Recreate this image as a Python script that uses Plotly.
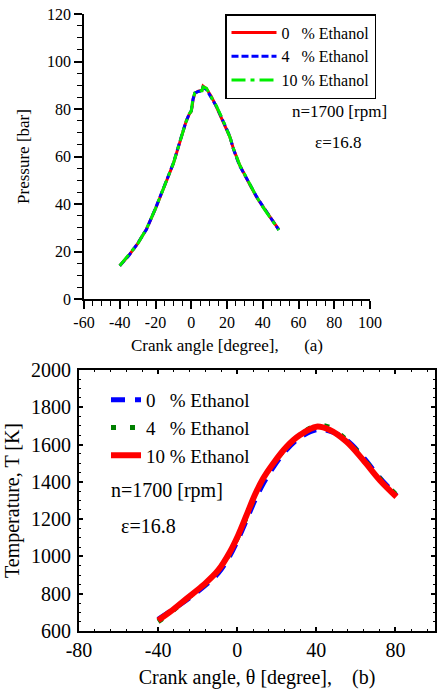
import plotly.graph_objects as go

# ---------------- data: (a) pressure ----------------
theta_p = [-40, -35, -30, -25, -20, -15, -10, -6, -3, -1, 0, 0.5, 1, 2, 4, 6, 6.6, 8.5, 10, 11.3, 14, 17, 21.6, 23.5, 27, 32, 36.5, 40, 44, 47, 49]
p_0 = [14, 18.3, 23.3, 29.5, 38, 47.5, 57, 67, 74.5, 78, 79, 81, 84, 86.6, 87.5, 87.8, 89.6, 88.5, 86.6, 85.2, 81, 76, 68.3, 63.5, 56.5, 49.2, 43, 39, 34.5, 31, 29.2]
p_4 = [14, 18.2, 23.4, 29.4, 38.2, 47.4, 57.2, 67.2, 74.6, 78.2, 79.2, 81.5, 84.2, 86.7, 87.4, 87.6, 89.2, 88.2, 86.4, 85.0, 81.2, 76.3, 68.5, 63.3, 56.2, 49.4, 43.2, 39.1, 34.4, 31.1, 29.1]
p_10 = [14, 18.4, 23.2, 29.6, 38.1, 47.6, 57.1, 67.1, 74.4, 78.1, 79.1, 82, 84.5, 86.8, 87.6, 87.7, 89.3, 88.8, 86.5, 84.8, 81.4, 76.5, 68.2, 63.6, 56.6, 49.3, 43.1, 38.8, 34.6, 31.0, 29.0]
ticks_xa = [-60, -40, -20, 0, 20, 40, 60, 80, 100]
ticks_xa_text = ["-60", "-40", "-20", "0", "20", "40", "60", "80", "100"]

# ---------------- data: (b) temperature ----------------
theta_t = [-40, -34, -25.6, -16.3, -9.6, -3.7, 0.5, 4.7, 8.9, 13.1, 18.2, 24.9, 31.7, 40.1, 46.8, 55.3, 63.7, 72.1, 80.5]
t_0 = [662, 705, 766, 843, 910, 1004, 1094, 1196, 1300, 1390, 1478, 1572, 1638, 1680, 1672, 1624, 1532, 1422, 1326]
t_4 = [650, 696, 772, 850, 924, 1018, 1108, 1212, 1322, 1414, 1497, 1586, 1652, 1702, 1692, 1624, 1526, 1418, 1330]
t_10 = [657, 702, 774, 854, 926, 1024, 1114, 1221, 1329, 1418, 1499, 1588, 1651, 1696, 1678, 1615, 1517, 1409, 1320]
ticks_xb = [-80, -40, 0, 40, 80]
ticks_xb_text = ["-80", "-40", "0", "40", "80"]

labels = ["0\u00a0\u00a0\u00a0% Ethanol", "4\u00a0\u00a0\u00a0% Ethanol", "10 % Ethanol"]

FONT = "Times New Roman, Liberation Serif, serif"
W, H = 438, 693

fig = go.Figure()

# top chart traces
fig.add_trace(go.Scatter(x=theta_p, y=p_0, mode="lines", name=labels[0],
                         line=dict(color="#ff0000", width=3), xaxis="x", yaxis="y", legend="legend"))
fig.add_trace(go.Scatter(x=theta_p, y=p_4, mode="lines", name=labels[1],
                         line=dict(color="#0000ff", width=3, dash="7px,3px"), xaxis="x", yaxis="y", legend="legend"))
fig.add_trace(go.Scatter(x=theta_p, y=p_10, mode="lines", name=labels[2],
                         line=dict(color="#00ee00", width=3, dash="14px,5px,4px,5px"), xaxis="x", yaxis="y", legend="legend"))

# bottom chart traces
fig.add_trace(go.Scatter(x=theta_t, y=t_0, mode="lines", name=labels[0], line_shape="spline",
                         line=dict(color="#0000ff", width=5, dash="14px,10px"), xaxis="x2", yaxis="y2", legend="legend2"))
fig.add_trace(go.Scatter(x=theta_t, y=t_4, mode="lines", name=labels[1], line_shape="spline",
                         line=dict(color="#008000", width=5, dash="5px,14px"), xaxis="x2", yaxis="y2", legend="legend2"))
fig.add_trace(go.Scatter(x=theta_t, y=t_10, mode="lines", name=labels[2], line_shape="spline",
                         line=dict(color="#ff0000", width=6), xaxis="x2", yaxis="y2", legend="legend2"))

def px_x(v):
    return v / W

def px_y(v):
    return 1 - v / H

tickfont_a = dict(family=FONT, size=16, color="black")
tickfont_b = dict(family=FONT, size=20, color="black")

fig.update_layout(
    template="none",
    width=W, height=H,
    margin=dict(l=0, r=0, t=0, b=0, autoexpand=False),
    paper_bgcolor="white", plot_bgcolor="white",
    font=dict(family=FONT, color="black"),
    xaxis=dict(
        domain=[px_x(84), px_x(370)], anchor="y", automargin=False,
        range=[-60, 100], tickmode="array", tickvals=ticks_xa, ticktext=ticks_xa_text,
        showline=True, linecolor="black", linewidth=1.5,
        ticks="outside", ticklen=8, tickwidth=1.5, tickcolor="black",
        minor=dict(dtick=5, tick0=0, ticks="outside", ticklen=5, tickwidth=1, tickcolor="black", showgrid=False),
        showgrid=False, zeroline=False, tickfont=tickfont_a,
        title=dict(text="Crank angle [degree],\u00a0\u00a0\u00a0\u00a0\u00a0\u00a0(a)\u00a0\u00a0\u00a0",
                   font=dict(family=FONT, size=17, color="black"), standoff=9),
    ),
    yaxis=dict(
        domain=[px_y(299), px_y(14)], anchor="x", automargin=False,
        range=[0, 120], tick0=0, dtick=20,
        showline=True, linecolor="black", linewidth=1.5,
        ticks="outside", ticklen=8, tickwidth=1.5, tickcolor="black",
        minor=dict(dtick=5, tick0=0, ticks="outside", ticklen=5, tickwidth=1, tickcolor="black", showgrid=False),
        showgrid=False, zeroline=False, tickfont=tickfont_a,
        title=dict(text="Pressure [bar]", font=dict(family=FONT, size=17, color="black"), standoff=13),
    ),
    xaxis2=dict(
        domain=[px_x(79), px_x(435)], anchor="y2", automargin=False,
        range=[-80, 100], tickmode="array", tickvals=ticks_xb, ticktext=ticks_xb_text,
        showline=True, linecolor="black", linewidth=2, mirror="allticks",
        ticks="inside", ticklen=4, tickwidth=1.5, tickcolor="black",
        minor=dict(dtick=8, tick0=-80, ticks="inside", ticklen=2, tickwidth=1, tickcolor="black", showgrid=False),
        showgrid=False, zeroline=False, tickfont=tickfont_b, ticklabelstandoff=0,
        title=dict(text="Crank angle, \u03b8 [degree],\u00a0\u00a0\u00a0\u00a0(b)",
                   font=dict(family=FONT, size=20, color="black"), standoff=10),
    ),
    yaxis2=dict(
        domain=[px_y(631), px_y(370)], anchor="x2", automargin=False,
        range=[600, 2000], tick0=600, dtick=200,
        showline=True, linecolor="black", linewidth=2, mirror="allticks",
        ticks="inside", ticklen=4, tickwidth=1.5, tickcolor="black",
        minor=dict(dtick=50, tick0=600, ticks="inside", ticklen=2, tickwidth=1, tickcolor="black", showgrid=False),
        showgrid=False, zeroline=False, tickfont=tickfont_b, ticklabelstandoff=2,
        title=dict(text="Temperature, T [K]" + "\u00a0" * 9,
                   font=dict(family=FONT, size=20, color="black"), standoff=6),
    ),
    legend=dict(
        x=px_x(225), y=px_y(14), xanchor="left", yanchor="top",
        bgcolor="white", bordercolor="black", borderwidth=1.5,
        font=dict(family=FONT, size=16, color="black"),
        tracegroupgap=0, itemwidth=45,
    ),
    legend2=dict(
        x=px_x(106), y=px_y(381), xanchor="left", yanchor="top",
        bgcolor="rgba(0,0,0,0)", borderwidth=0,
        font=dict(family=FONT, size=19, color="black"),
        tracegroupgap=0,
    ),
    showlegend=True,
)

annots = [
    dict(text="n=1700 [rpm]", x=px_x(339), y=px_y(111), size=17),
    dict(text="\u03b5=16.8", x=px_x(338), y=px_y(142), size=17),
    dict(text="n=1700 [rpm]", x=px_x(167), y=px_y(490), size=20),
    dict(text="\u03b5=16.8", x=px_x(148), y=px_y(526), size=20),
]
for a in annots:
    fig.add_annotation(text=a["text"], x=a["x"], y=a["y"], xref="paper", yref="paper",
                       xanchor="center", yanchor="middle", showarrow=False,
                       font=dict(family=FONT, size=a["size"], color="black"))

fig.write_html("out.html", config={"displayModeBar": False},
               post_script="document.body.style.margin='0';document.body.style.padding='0';")
